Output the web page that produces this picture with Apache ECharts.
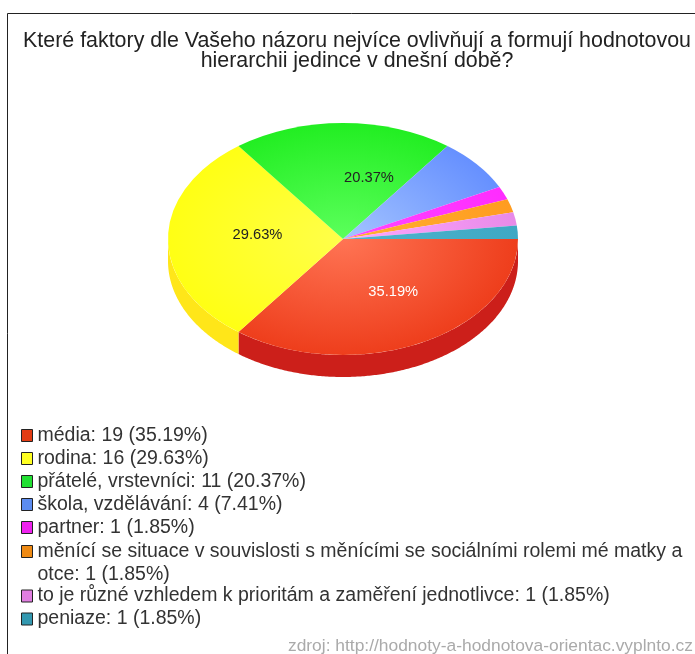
<!DOCTYPE html>
<html>
<head>
<meta charset="utf-8">
<style>html,body{margin:0;padding:0;background:#fff}#c{width:695px;height:654px}</style>
<script src="https://cdn.jsdelivr.net/npm/echarts@6/dist/echarts.min.js"></script>
</head>
<body>
<div id="c"></div>
<script>
const categories = ['média','rodina','přátelé, vrstevníci','škola, vzdělávání','partner','měnící se situace v souvislosti s měnícími se sociálními rolemi mé matky a otce','to je různé vzhledem k prioritám a zaměření jednotlivce','peniaze'];
const values = [19,16,11,4,1,1,1,1];
const swatchColors = ['#e23c14','#ffff22','#22e033','#5c8cf0','#ee22ee','#ee8a14','#e07ee0','#3398b0'];
const innerColors = ['#ff7454','#ffff4a','#5cff5c','#a4c4ff','#ff48ff','#ffb030','#ffa8ff','#50b4cc'];
const outerColors = ['#ee3e1c','#ffff14','#22ee22','#6690ff','#ff2cff','#ff9c20','#e88ae8','#3ea8c4'];
const wallColors = ['#cc1f1a','#ffe619'];
const labelShift = [[11,1],[2,-4],[26,-3]];

const total = values.reduce((a,b)=>a+b,0);
const pct = v => (v/total*100).toFixed(2);
const cx = 343, cy = 239, R = 175, squash = 116/175, depth = 22;
const starts = []; values.reduce((s,v,i)=>(starts[i]=s, s+v),0);
const toAngle = v => v/total*Math.PI*2;

function legendText(name){
  const i = categories.indexOf(name);
  let t = name + ': ' + values[i] + ' (' + pct(values[i]) + '%)';
  if (i === 5) t = '\n' + t.replace('matky a otce','matky a\notce');
  return t;
}
function renderSlice(i){
  return function(params, api){
    const a0 = toAngle(starts[i]), a1 = a0 + toAngle(api.value(0));
    const children = [];
    const wEnd = Math.min(a1, Math.PI);
    if (a0 < Math.PI) {
      const top = [], bottom = [];
      for (let a = a0; a < wEnd; a += 0.01) {
        top.push([cx+R*Math.cos(a), cy+R*squash*Math.sin(a)]);
        bottom.unshift([cx+R*Math.cos(a), cy+R*squash*Math.sin(a)+depth]);
      }
      top.push([cx+R*Math.cos(wEnd), cy+R*squash*Math.sin(wEnd)]);
      bottom.unshift([cx+R*Math.cos(wEnd), cy+R*squash*Math.sin(wEnd)+depth]);
      children.push({type:'polygon', shape:{points:top.concat(bottom)}, style:{fill:wallColors[i]||outerColors[i]}});
    }
    children.push({type:'group', x:cx, y:cy, scaleY:squash, children:[{
      type:'sector',
      shape:{cx:0,cy:0,r:R,r0:0,startAngle:a0,endAngle:a1,clockwise:true},
      style:{fill:{type:'radial',x:0,y:0,r:R,global:true,colorStops:[{offset:0,color:innerColors[i]},{offset:1,color:outerColors[i]}]}}
    }]});
    if (labelShift[i]) {
      const m = (a0+a1)/2;
      children.push({type:'text', x:cx+R*0.5*Math.cos(m)+labelShift[i][0], y:cy+R*squash*0.5*Math.sin(m)+labelShift[i][1],
        style:{text:pct(values[i])+'%', fill:i===0?'#fff':'#222', font:'14.7px "Liberation Sans"', align:'center', verticalAlign:'middle'}, z2:10});
    }
    return {type:'group', children};
  };
}
const legendBase = {
  orient:'vertical', left:21, itemWidth:11, itemHeight:12, itemGap:0, padding:0,
  icon:'rect', selectedMode:false, formatter:legendText,
  itemStyle:{borderColor:'#222',borderWidth:1},
  textStyle:{fontFamily:'Liberation Sans',fontSize:19.5,color:'#333',lineHeight:23}
};
const chart = echarts.init(document.getElementById('c'), null, {renderer:'canvas'});
chart.setOption({
  animation:false,
  backgroundColor:'#fff',
  title:[
    {text:'Které faktory dle Vašeho názoru nejvíce ovlivňují a formují hodnotovou\nhierarchii jedince v dnešní době?',
     left:357, top:31, textAlign:'center', padding:0,
     textStyle:{fontFamily:'Liberation Sans',fontSize:21.4,fontWeight:'normal',color:'#222',lineHeight:20}},
    {text:'zdroj: http://hodnoty-a-hodnotova-orientac.vyplnto.cz',
     left:693, top:638, textAlign:'right', padding:0,
     textStyle:{fontFamily:'Liberation Sans',fontSize:17.4,fontWeight:'normal',color:'#aaa'}}
  ],
  legend:[
    Object.assign({},legendBase,{top:424,data:categories.slice(0,5)}),
    Object.assign({},legendBase,{top:517,data:categories.slice(5,6)}),
    Object.assign({},legendBase,{top:584.5,data:categories.slice(6)})
  ],
  graphic:[
    {type:'line',shape:{x1:7.5,y1:13.5,x2:695,y2:13.5},style:{stroke:'#222',lineWidth:1}},
    {type:'line',shape:{x1:7.5,y1:13.5,x2:7.5,y2:654},style:{stroke:'#222',lineWidth:1}}
  ],
  series:categories.map((name,i)=>({
    type:'custom', name, coordinateSystem:'none',
    itemStyle:{color:swatchColors[i]},
    renderItem:renderSlice(i),
    data:[[values[i]]]
  }))
});
</script>
</body>
</html>
